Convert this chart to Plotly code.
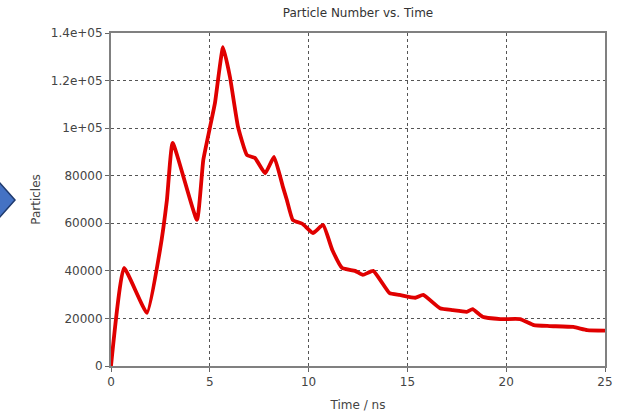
import plotly.graph_objects as go

# Particle count over simulation time
time_ns = [0, 0.66, 1.82, 2.48, 2.83, 3.12, 4.35, 4.67, 5.0, 5.26, 5.67, 6.02,
           6.43, 6.88, 7.29, 7.8, 8.25, 8.7, 8.9, 9.2, 9.7, 10.22, 10.73, 11.2,
           11.7, 12.35, 12.75, 13.27, 14.1, 14.6, 15.4, 15.8, 16.65, 17.3, 18.0,
           18.3, 18.8, 19.7, 20.7, 21.4, 22.2, 23.4, 24.1, 25.0]
particles = [0, 41200, 22300, 48800, 69800, 93800, 61400, 86600, 100000, 110500,
             134000, 121500, 100500, 88700, 87400, 81000, 87900, 75300, 69800,
             61400, 59700, 55900, 59300, 48800, 41200, 40000, 38300, 40000, 30600,
             29900, 28700, 29900, 24300, 23500, 22800, 23900, 20700, 19700, 19700,
             17200, 16800, 16400, 15100, 14900]

x_ticks = [0, 5, 10, 15, 20, 25]
y_ticks = [0, 20000, 40000, 60000, 80000, 100000, 120000, 140000]
y_tick_text = ["0", "20000", "40000", "60000", "80000", "1e+05", "1.2e+05", "1.4e+05"]

W, H = 623, 418
L, R, T, B = 111, 18, 33, 52
pw, ph = W - L - R, H - T - B


def px(x):
    return (x - L) / pw


def py(y):
    return (H - B - y) / ph


font = "DejaVu Sans, Verdana, sans-serif"

fig = go.Figure()
fig.add_trace(go.Scatter(
    x=time_ns, y=particles, mode="lines",
    line=dict(color="#e00000", width=3.8, shape="spline", smoothing=0.4),
    showlegend=False,
))

axis_common = dict(
    showline=True, linecolor="#808080", linewidth=2, mirror=True,
    showgrid=True, gridcolor="#555555", griddash="dot", gridwidth=1,
    zeroline=False, ticks="outside", ticklen=4, tickcolor="#666666",
    tickfont=dict(family=font, size=12, color="#444444"),
    automargin=False,
)

fig.update_xaxes(range=[0, 25], tickvals=x_ticks, **axis_common,
                 title=dict(text="Time / ns", standoff=12,
                            font=dict(family=font, size=12, color="#444444")))
fig.update_yaxes(range=[0, 140000], tickvals=y_ticks, ticktext=y_tick_text,
                 **axis_common,
                 title=dict(text="Particles", standoff=8,
                            font=dict(family=font, size=12, color="#444444")))

# Blue navigation arrow on the left edge
fig.add_shape(
    type="path", xref="paper", yref="paper",
    path=f"M {px(-2)} {py(181)} L {px(15)} {py(200)} L {px(-2)} {py(219)} Z",
    fillcolor="#4472c4", line=dict(color="#1f3a6e", width=1.5),
)

fig.update_layout(
    width=W, height=H,
    margin=dict(l=L, r=R, t=T, b=B),
    paper_bgcolor="white", plot_bgcolor="white",
    title=dict(text="Particle Number vs. Time", x=0.5, xref="paper",
               y=1 - 13 / H, yref="container", yanchor="middle",
               font=dict(family=font, size=12, color="#333333")),
)

fig.write_html("out.html")
